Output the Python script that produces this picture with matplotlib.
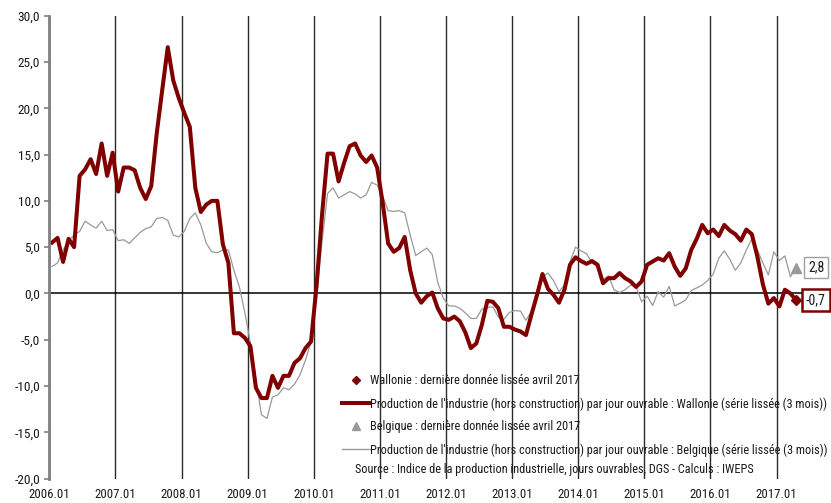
import matplotlib
matplotlib.use("Agg")
import matplotlib.pyplot as plt
from matplotlib.lines import Line2D
from matplotlib.ticker import FuncFormatter

plt.rcParams['font.family'] = ['Roboto Condensed', 'Archivo Narrow', 'Liberation Sans', 'DejaVu Sans']

# Monthly values, 2006.01 .. 2017.04 (smoothed 3 months)
wallonie = [5.5, 6.0, 3.4, 5.9, 5.0, 12.7, 13.4, 14.5, 12.9, 16.2, 12.7, 15.2,
            11.0, 13.6, 13.6, 13.3, 11.4, 10.2, 11.6, 17.3, 22.0, 26.6, 23.0, 21.1,
            19.5, 18.0, 11.4, 8.8, 9.6, 10.0, 10.0, 5.3, 3.3, -4.3, -4.3, -4.8,
            -5.7, -10.2, -11.3, -11.3, -8.9, -10.2, -8.9, -8.9, -7.5, -7.0, -5.9, -5.2,
            0.8, 8.5, 15.1, 15.1, 12.1, 14.1, 15.9, 16.2, 14.9, 14.2, 14.9, 13.6,
            9.8, 5.4, 4.5, 4.9, 6.1, 2.5, 0.0, -1.0, -0.3, 0.1, -1.6, -2.7,
            -2.85, -2.5, -3.0, -4.2, -5.9, -5.4, -3.4, -0.8, -0.9, -1.6, -3.6, -3.6,
            -3.9, -4.1, -4.5, -2.3, -0.2, 2.1, 0.5, -0.15, -1.0, 0.4, 3.1, 3.9,
            3.5, 3.2, 3.5, 3.1, 1.1, 1.65, 1.65, 2.2, 1.65, 1.3, 0.7, 1.3,
            3.1, 3.45, 3.8, 3.55, 4.35, 2.9, 1.9, 2.7, 4.7, 5.9, 7.4, 6.5,
            6.9, 6.2, 7.4, 6.8, 6.4, 5.7, 6.9, 6.4, 4.0, 1.0, -1.1, -0.5,
            -1.4, 0.4, 0.0, -0.7]

belgique = [2.9, 3.3, 4.7, 5.7, 6.3, 6.7, 7.8, 7.4, 7.05, 7.8, 6.8, 6.9,
            5.7, 5.8, 5.4, 6.0, 6.6, 7.0, 7.2, 8.1, 8.2, 7.9, 6.3, 6.1,
            6.7, 8.1, 8.7, 7.4, 5.4, 4.5, 4.4, 4.7, 4.7, 2.5, 0.7, -2.1,
            -5.4, -9.3, -13.1, -13.5, -11.2, -10.95, -10.2, -10.4, -9.8, -8.8, -7.2, -5.2,
            -0.3, 5.6, 10.8, 11.4, 10.3, 10.65, 11.0, 10.75, 10.3, 10.65, 12.0, 11.7,
            10.5, 8.95, 8.85, 8.95, 8.7, 6.3, 4.1, 4.5, 4.9, 4.2, 1.2, -0.5,
            -1.35, -1.35, -1.6, -2.1, -2.7, -2.7, -1.7, -1.5, -1.45, -2.55, -2.8, -2.05,
            -1.85, -1.9, -2.9, -1.95, 0.2, 1.8, 2.2, 1.4, 0.2, 0.9, 3.4, 5.0,
            4.6, 4.3, 3.3, 2.9, 1.5, 1.9, 0.4, 0.1, 0.4, 0.9, 0.7, -0.9,
            -0.3, -1.3, 0.2, -0.4, 0.75, -1.35, -1.05, -0.7, 0.3, 0.6, 0.9, 1.4,
            2.1, 3.8, 4.6, 3.7, 2.5, 3.3, 4.7, 5.9, 4.7, 3.3, 2.0, 4.5,
            3.55, 4.05, 1.8, 2.8]

year_labels = ['2006.01', '2007.01', '2008.01', '2009.01', '2010.01', '2011.01',
               '2012.01', '2013.01', '2014.01', '2015.01', '2016.01', '2017.01']

legend_labels = ["Wallonie : dernière donnée lissée avril 2017",
                 "Production de l'industrie (hors construction) par jour ouvrable : Wallonie (série lissée (3 mois))",
                 "Belgique : dernière donnée lissée avril 2017",
                 "Production de l'industrie (hors construction) par jour ouvrable : Belgique (série lissée (3 mois))"]
source_text = "Source : Indice de la production industrielle, jours ouvrables, DGS - Calculs : IWEPS"

RED = '#800000'
GRAY = '#999999'
TXT = '#1a1a1a'
W, H = 831, 503
FS = 8.8
TFS = 9.3

fig = plt.figure(figsize=(W / 100, H / 100), dpi=100)
left, right, top, bottom = 49.3, 831, 15.7, 478.6
ax = fig.add_axes([left / W, 1 - bottom / H, (right - left) / W, (bottom - top) / H])

x = list(range(len(wallonie)))
ax.plot(x, belgique, color=GRAY, lw=0.9, zorder=3)
ax.plot(x, wallonie, color=RED, lw=2.9, zorder=4)
ax.plot([x[-1]], [belgique[-1]], marker='^', color=GRAY, ms=6.5, ls='none', zorder=5)
ax.plot([x[-1]], [wallonie[-1]], marker='D', color=RED, ms=5.5, ls='none', zorder=5)

ax.axhline(0, color='black', lw=1.1, zorder=2)

ax.set_ylim(-20, 30)
ax.set_yticks(range(-20, 31, 5))
ax.yaxis.set_major_formatter(FuncFormatter(lambda v, p: f"{v:.1f}".replace('.', ',')))
ax.set_xlim(-0.5, -0.5 + (right - left) / 5.51)
ax.set_xticks([12 * i - 0.5 for i in range(len(year_labels))])
ax.set_xticklabels(year_labels)
ax.grid(axis='x', color='#2a2a2a', lw=1.0, zorder=1)

for s in ['top', 'right', 'bottom']:
    ax.spines[s].set_visible(False)
ax.spines['left'].set_color('#808080')
ax.spines['left'].set_linewidth(2)
ax.spines['left'].set_zorder(6)
ax.tick_params(axis='y', direction='out', length=3.5, width=1.2, color='#808080',
               labelsize=TFS + 0.3, labelcolor=TXT, pad=3)
ax.tick_params(axis='x', length=0, labelsize=TFS, labelcolor=TXT, pad=6.5)

# value labels at the end of the series
ax.annotate(f"{belgique[-1]:.1f}".replace('.', ','), xy=(x[-1], belgique[-1]),
            xytext=(14.5, 0), textcoords='offset points', ha='center', va='center',
            fontsize=TFS + 0.7, color=TXT,
            bbox=dict(boxstyle='square,pad=0.28', fc='white', ec='#a0a0a0', lw=1.0),
            annotation_clip=False, zorder=7)
ax.annotate(f"{wallonie[-1]:.1f}".replace('.', ','), xy=(x[-1], wallonie[-1]),
            xytext=(14.5, 0), textcoords='offset points', ha='center', va='center',
            fontsize=TFS + 0.7, color=TXT,
            bbox=dict(boxstyle='square,pad=0.28', fc='white', ec=RED, lw=1.8),
            annotation_clip=False, zorder=7)

handles = [Line2D([], [], marker='D', color=RED, ms=4.5, ls='none'),
           Line2D([], [], color=RED, lw=2.9),
           Line2D([], [], marker='^', color=GRAY, ms=6, ls='none'),
           Line2D([], [], color=GRAY, lw=1.0)]
leg = ax.legend(handles, legend_labels, loc='upper left',
                bbox_to_anchor=(342 / W, 1 - 374.5 / H), bbox_transform=fig.transFigure,
                frameon=False, fontsize=FS, handlelength=2.25, handletextpad=0.05,
                labelspacing=0.8, borderpad=0, borderaxespad=0, labelcolor=TXT)
leg.set_zorder(8)
fig.text(355 / W, 1 - 469 / H, source_text, fontsize=FS, color=TXT,
         ha='left', va='center')

fig.savefig('out.png', dpi=100)
